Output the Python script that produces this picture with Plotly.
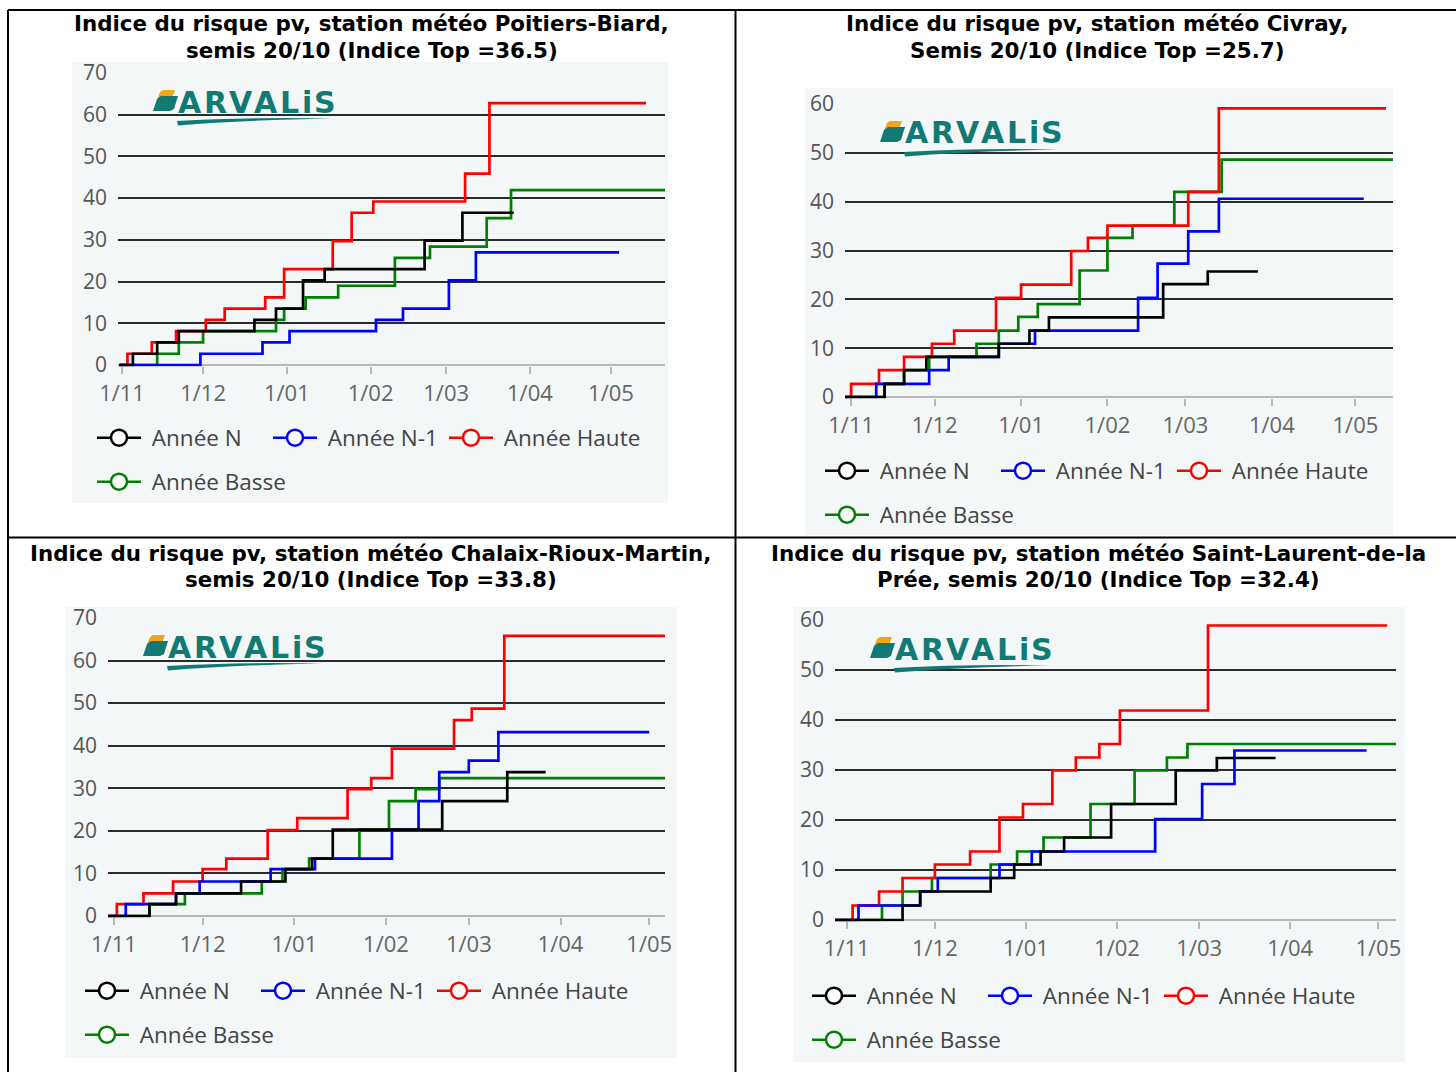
import plotly.graph_objects as go

FIG_W, FIG_H = 1456, 1072

# ---------------------------------------------------------------- data
series_names = ["Année N", "Année N-1", "Année Haute", "Année Basse"]
series_colors = ["#000000", "#0000ff", "#ff0000", "#008000"]

# Poitiers-Biard
poitiers_n_dates = ["2024-10-31", "2024-11-05", "2024-11-14", "2024-11-22", "2024-12-20", "2024-12-28",
                    "2025-01-07", "2025-01-15", "2025-02-21", "2025-03-07", "2025-03-26"]
poitiers_n_values = [0, 2.7, 5.4, 8.1, 10.8, 13.5, 20.3, 23.0, 29.8, 36.5, 36.5]
poitiers_n1_dates = ["2024-10-31", "2024-11-30", "2024-12-23", "2025-01-02", "2025-02-03", "2025-02-13",
                     "2025-03-02", "2025-03-12", "2025-05-04"]
poitiers_n1_values = [0, 2.7, 5.4, 8.1, 10.8, 13.5, 20.3, 27.0, 27.0]
poitiers_haute_dates = ["2024-10-31", "2024-11-03", "2024-11-12", "2024-11-21", "2024-12-02", "2024-12-09",
                        "2024-12-24", "2024-12-31", "2025-01-18", "2025-01-25", "2025-02-02", "2025-03-08",
                        "2025-03-17", "2025-05-14"]
poitiers_haute_values = [0, 2.7, 5.4, 8.1, 10.8, 13.5, 16.2, 23.0, 29.7, 36.5, 39.2, 45.9, 62.8, 62.8]
poitiers_basse_dates = ["2024-10-31", "2024-11-14", "2024-11-22", "2024-12-01", "2024-12-28", "2024-12-31",
                        "2025-01-08", "2025-01-20", "2025-02-10", "2025-02-23", "2025-03-16", "2025-03-25",
                        "2025-05-25"]
poitiers_basse_values = [0, 2.7, 5.4, 8.1, 10.8, 13.5, 16.2, 19.0, 25.7, 28.4, 35.2, 41.9, 41.9]

# Civray
civray_n_dates = ["2024-10-29", "2024-11-13", "2024-11-20", "2024-11-28", "2024-12-24", "2025-01-04",
                  "2025-01-11", "2025-02-21", "2025-03-09", "2025-03-27"]
civray_n_values = [0, 2.7, 5.5, 8.2, 10.9, 13.6, 16.3, 23.1, 25.7, 25.7]
civray_n1_dates = ["2024-10-29", "2024-11-10", "2024-11-29", "2024-12-06", "2024-12-24", "2025-01-06",
                   "2025-02-12", "2025-02-19", "2025-03-02", "2025-03-13", "2025-05-04"]
civray_n1_values = [0, 2.7, 5.5, 8.2, 10.9, 13.6, 20.3, 27.3, 33.9, 40.6, 40.6]
civray_haute_dates = ["2024-10-29", "2024-11-01", "2024-11-11", "2024-11-20", "2024-11-30", "2024-12-08",
                      "2024-12-23", "2025-01-01", "2025-01-19", "2025-01-25", "2025-02-01", "2025-03-02",
                      "2025-03-13", "2025-05-12"]
civray_haute_values = [0, 2.7, 5.5, 8.2, 10.9, 13.6, 20.3, 23.0, 29.9, 32.6, 35.1, 42.0, 59.1, 59.1]
civray_basse_dates = ["2024-10-29", "2024-11-13", "2024-11-20", "2024-11-29", "2024-12-16", "2024-12-24",
                      "2024-12-31", "2025-01-07", "2025-01-22", "2025-02-01", "2025-02-10", "2025-02-25",
                      "2025-03-14", "2025-05-20"]
civray_basse_values = [0, 2.7, 5.5, 8.2, 10.9, 13.6, 16.4, 19.0, 25.9, 32.6, 35.1, 42.0, 48.6, 48.6]

# Chalaix-Rioux-Martin
chalaix_n_dates = ["2024-10-30", "2024-11-13", "2024-11-22", "2024-12-14", "2024-12-29", "2025-01-07",
                   "2025-01-14", "2025-02-20", "2025-03-14", "2025-03-27"]
chalaix_n_values = [0, 2.8, 5.3, 8.1, 11.0, 13.5, 20.3, 27.0, 33.8, 33.8]
chalaix_n1_dates = ["2024-10-30", "2024-11-05", "2024-11-22", "2024-11-30", "2024-12-24", "2025-01-08",
                    "2025-02-03", "2025-02-12", "2025-02-19", "2025-03-01", "2025-03-11", "2025-05-01"]
chalaix_n1_values = [0, 2.8, 5.3, 8.1, 11.0, 13.5, 20.3, 27.0, 33.8, 36.5, 43.2, 43.2]
chalaix_haute_dates = ["2024-10-30", "2024-11-02", "2024-11-11", "2024-11-21", "2024-12-01", "2024-12-09",
                       "2024-12-23", "2025-01-02", "2025-01-19", "2025-01-27", "2025-02-03", "2025-02-24",
                       "2025-03-02", "2025-03-13", "2025-05-10"]
chalaix_haute_values = [0, 2.8, 5.3, 8.1, 11.0, 13.5, 20.2, 23.0, 29.8, 32.4, 39.3, 46.0, 48.7, 65.8, 65.8]
chalaix_basse_dates = ["2024-10-30", "2024-11-13", "2024-11-25", "2024-12-21", "2024-12-28", "2025-01-06",
                       "2025-01-23", "2025-02-02", "2025-02-11", "2025-02-19", "2025-05-10"]
chalaix_basse_values = [0, 2.8, 5.3, 8.1, 11.0, 13.5, 20.3, 27.0, 29.8, 32.4, 32.4]

# Saint-Laurent-de-la-Prée
stlaurent_n_dates = ["2024-10-27", "2024-11-20", "2024-11-26", "2024-12-20", "2024-12-28", "2025-01-06",
                     "2025-01-14", "2025-01-30", "2025-02-21", "2025-03-07", "2025-03-27"]
stlaurent_n_values = [0, 2.9, 5.7, 8.4, 11.1, 13.7, 16.5, 23.2, 29.9, 32.4, 32.4]
stlaurent_n1_dates = ["2024-10-27", "2024-11-05", "2024-11-26", "2024-12-02", "2024-12-23", "2025-01-03",
                      "2025-02-14", "2025-03-02", "2025-03-13", "2025-04-27"]
stlaurent_n1_values = [0, 2.9, 5.7, 8.4, 11.1, 13.7, 20.2, 27.2, 33.9, 33.9]
stlaurent_haute_dates = ["2024-10-27", "2024-11-03", "2024-11-12", "2024-11-20", "2024-12-01", "2024-12-13",
                         "2024-12-23", "2024-12-31", "2025-01-10", "2025-01-18", "2025-01-26", "2025-02-02",
                         "2025-03-04", "2025-05-04"]
stlaurent_haute_values = [0, 2.9, 5.7, 8.4, 11.1, 13.7, 20.5, 23.2, 29.9, 32.5, 35.2, 41.9, 58.9, 58.9]
stlaurent_basse_dates = ["2024-10-27", "2024-11-13", "2024-11-20", "2024-11-30", "2024-12-20", "2024-12-29",
                         "2025-01-07", "2025-01-23", "2025-02-07", "2025-02-18", "2025-02-25", "2025-05-10"]
stlaurent_basse_values = [0, 2.9, 5.7, 8.4, 11.1, 13.7, 16.5, 23.2, 29.9, 32.5, 35.2, 35.2]

title_lines = [
    ("Indice du risque pv, station météo Poitiers-Biard,", "semis 20/10 (Indice Top =36.5)"),
    ("Indice du risque pv, station météo Civray,", "Semis 20/10 (Indice Top =25.7)"),
    ("Indice du risque pv, station météo Chalaix-Rioux-Martin,", "semis 20/10 (Indice Top =33.8)"),
    ("Indice du risque pv, station météo Saint-Laurent-de-la", "Prée, semis 20/10 (Indice Top =32.4)"),
]
y_max = [70, 60, 70, 60]
x_ranges = [
    ["2024-10-30 12:00", "2025-05-21"],
    ["2024-10-29 19:00", "2025-05-14 12:00"],
    ["2024-10-30", "2025-05-06 08:00"],
    ["2024-10-28", "2025-05-07"],
]

station_series = [
    [(poitiers_n_dates, poitiers_n_values), (poitiers_n1_dates, poitiers_n1_values),
     (poitiers_haute_dates, poitiers_haute_values), (poitiers_basse_dates, poitiers_basse_values)],
    [(civray_n_dates, civray_n_values), (civray_n1_dates, civray_n1_values),
     (civray_haute_dates, civray_haute_values), (civray_basse_dates, civray_basse_values)],
    [(chalaix_n_dates, chalaix_n_values), (chalaix_n1_dates, chalaix_n1_values),
     (chalaix_haute_dates, chalaix_haute_values), (chalaix_basse_dates, chalaix_basse_values)],
    [(stlaurent_n_dates, stlaurent_n_values), (stlaurent_n1_dates, stlaurent_n1_values),
     (stlaurent_haute_dates, stlaurent_haute_values), (stlaurent_basse_dates, stlaurent_basse_values)],
]

# ---------------------------------------------------------------- layout geometry (pixels)
# plot box: left, top (y max), right, zero line
plot_boxes = [(118, 73, 665, 365), (845, 104, 1393, 397), (108, 618, 665, 916), (835, 620, 1396, 920)]
card_boxes = [(72, 62, 668, 503), (805, 88, 1393, 535), (65, 607, 677, 1058), (793, 607, 1405, 1062)]
legend_rows = [(97, 438, 482), (825, 471, 515), (85, 991, 1035), (812, 996, 1040)]
title_pos = [(371.5, 24, 50), (1097, 24, 50), (370.5, 553, 579), (1098, 553, 579)]

CARD_BG = "#f3f7f7"
TEAL = "#127a74"
ORANGE = "#f2a516"
TEXT_FONT = "Open Sans"

# logo letters: (char, centre offset from the icon's left edge)
LOGO_LETTERS = [("A", 37.6), ("R", 63.2), ("V", 88.7), ("A", 114.3), ("L", 137.9), ("i", 155.0), ("S", 173.3)]


def fx(x):
    return x / FIG_W


def fy(y):
    return 1 - y / FIG_H


def poly_path(points):
    pts = [f"{fx(x):.5f},{fy(y):.5f}" for x, y in points]
    return "M" + " L".join(pts) + " Z"


fig = go.Figure()
shapes = []
annotations = []
layout_axes = {}
legends = {}

BOTTOM_PAD = 1.4
ENTRY_W = 117

for i in range(4):
    xa = "x" if i == 0 else f"x{i + 1}"
    ya = "y" if i == 0 else f"y{i + 1}"
    left, top, right, zero = plot_boxes[i]
    scale = (zero - top) / y_max[i]
    pad_units = BOTTOM_PAD / scale

    # step lines, black drawn last so it sits on top
    for k in [3, 2, 1, 0]:
        dates, values = station_series[i][k]
        fig.add_trace(go.Scatter(
            x=dates, y=values, mode="lines",
            line=dict(color=series_colors[k], width=2.7, shape="hv"),
            xaxis=xa, yaxis=ya, showlegend=False, hoverinfo="skip"))

    leg_a = "legend" if i == 0 else f"legend{2 * i + 1}"
    leg_b = f"legend{2 * i + 2}"
    for k in range(4):
        fig.add_trace(go.Scatter(
            x=[None], y=[None], mode="lines+markers", name="\u00a0" + series_names[k],
            line=dict(color=series_colors[k], width=2.5),
            marker=dict(symbol="circle", size=16, color="white",
                        line=dict(color=series_colors[k], width=2.5)),
            xaxis=xa, yaxis=ya, showlegend=True,
            legendwidth=ENTRY_W if k in (0, 1) else 170,
            legend=leg_a if k < 3 else leg_b))

    sx, row1, row2 = legend_rows[i]
    for name, ry in ((leg_a, row1), (leg_b, row2)):
        legends[name] = dict(
            x=fx(sx - 5), y=fy(ry), xanchor="left", yanchor="middle",
            orientation="h", bgcolor="rgba(0,0,0,0)", borderwidth=0,
            font=dict(family=TEXT_FONT, size=22.5, color="#444444"),
            itemwidth=44, entrywidth=ENTRY_W, itemclick=False, itemdoubleclick=False)

    xkey = "xaxis" if i == 0 else f"xaxis{i + 1}"
    ykey = "yaxis" if i == 0 else f"yaxis{i + 1}"
    layout_axes[xkey] = dict(
        type="date", domain=[fx(left), fx(right)], anchor=ya, range=x_ranges[i],
        tick0="2024-11-01", dtick="M1", tickformat="%-d/%m",
        ticks="outside", ticklen=7, tickwidth=1.5, tickcolor="#b8b8b8",
        showgrid=False, zeroline=False, showline=False, automargin=False,
        tickfont=dict(family=TEXT_FONT, size=22, color="#666666"),
        fixedrange=True)
    layout_axes[ykey] = dict(
        domain=[fy(zero + BOTTOM_PAD), fy(top)], anchor=xa,
        range=[-pad_units, y_max[i]], tick0=0, dtick=10,
        showgrid=True, gridcolor="#2b2b2b", gridwidth=1.5,
        zeroline=True, zerolinecolor="#b8b8b8", zerolinewidth=1.5,
        showline=False, ticks="", ticklabelstandoff=10, automargin=False,
        tickfont=dict(family=TEXT_FONT, size=21, color="#555555"),
        fixedrange=True)

    # card background
    cx0, cy0, cx1, cy1 = card_boxes[i]
    shapes.append(dict(type="rect", xref="paper", yref="paper", layer="below",
                       x0=fx(cx0), x1=fx(cx1), y0=fy(cy1), y1=fy(cy0),
                       fillcolor=CARD_BG, line=dict(width=0)))

    # ARVALIS logo
    ox, oy = left + 34, top + 17
    shapes.append(dict(type="rect", xref="paper", yref="paper", layer="between",
                       x0=fx(ox + 24), x1=fx(ox + 186), y0=fy(oy + 37), y1=fy(oy - 2),
                       fillcolor=CARD_BG, line=dict(width=0)))
    shapes.append(dict(type="path", xref="paper", yref="paper", layer="above",
                       path=poly_path([(ox + 5, oy + 10), (ox + 8, oy + 2), (ox + 11, oy), (ox + 23, oy),
                                       (ox + 20, oy + 8)]),
                       fillcolor=ORANGE, line=dict(width=0)))
    shapes.append(dict(type="path", xref="paper", yref="paper", layer="above",
                       path=poly_path([(ox + 1, oy + 21), (ox + 5, oy + 9), (ox + 9, oy + 6), (ox + 26, oy + 6),
                                       (ox + 22, oy + 19), (ox + 18, oy + 21)]),
                       fillcolor=TEAL, line=dict(width=0)))
    swoosh = (f"M{fx(ox + 25):.5f},{fy(oy + 31):.5f} "
              f"Q{fx(ox + 95):.5f},{fy(oy + 27):.5f} {fx(ox + 180):.5f},{fy(oy + 28.5):.5f} "
              f"Q{fx(ox + 95):.5f},{fy(oy + 30):.5f} {fx(ox + 26):.5f},{fy(oy + 35.5):.5f} Z")
    shapes.append(dict(type="path", xref="paper", yref="paper", layer="above",
                       path=swoosh, fillcolor=TEAL, line=dict(width=0)))
    for ch, dx in LOGO_LETTERS:
        annotations.append(dict(
            x=fx(ox + dx), y=fy(oy + 12), xref="paper", yref="paper",
            xanchor="center", yanchor="middle", showarrow=False,
            text=f"<b>{ch}</b>",
            font=dict(family="DejaVu Sans", size=30, color=TEAL)))

    # title, two centred lines
    tx, ty1, ty2 = title_pos[i]
    for line, ty in zip(title_lines[i], (ty1, ty2)):
        annotations.append(dict(
            x=fx(tx), y=fy(ty), xref="paper", yref="paper",
            xanchor="center", yanchor="middle", showarrow=False,
            text=f"<b>{line}</b>",
            font=dict(family="Verdana, DejaVu Sans", size=21.4, color="#000000")))

# table grid
for x0, y0, x1, y1 in [(8, 10, 8, 1072), (8, 10, 1456, 10), (735.5, 10, 735.5, 1072), (8, 537.5, 1456, 537.5)]:
    shapes.append(dict(type="line", xref="paper", yref="paper", layer="above",
                       x0=fx(x0), y0=fy(y0), x1=fx(x1), y1=fy(y1),
                       line=dict(color="#000000", width=2)))

fig.update_layout(
    width=FIG_W, height=FIG_H, autosize=False,
    margin=dict(l=0, r=0, t=0, b=0, pad=0, autoexpand=False),
    paper_bgcolor="white", plot_bgcolor="rgba(0,0,0,0)",
    font=dict(family=TEXT_FONT),
    shapes=shapes, annotations=annotations,
    hovermode=False,
    **layout_axes, **legends)

fig.write_html("out.html")
